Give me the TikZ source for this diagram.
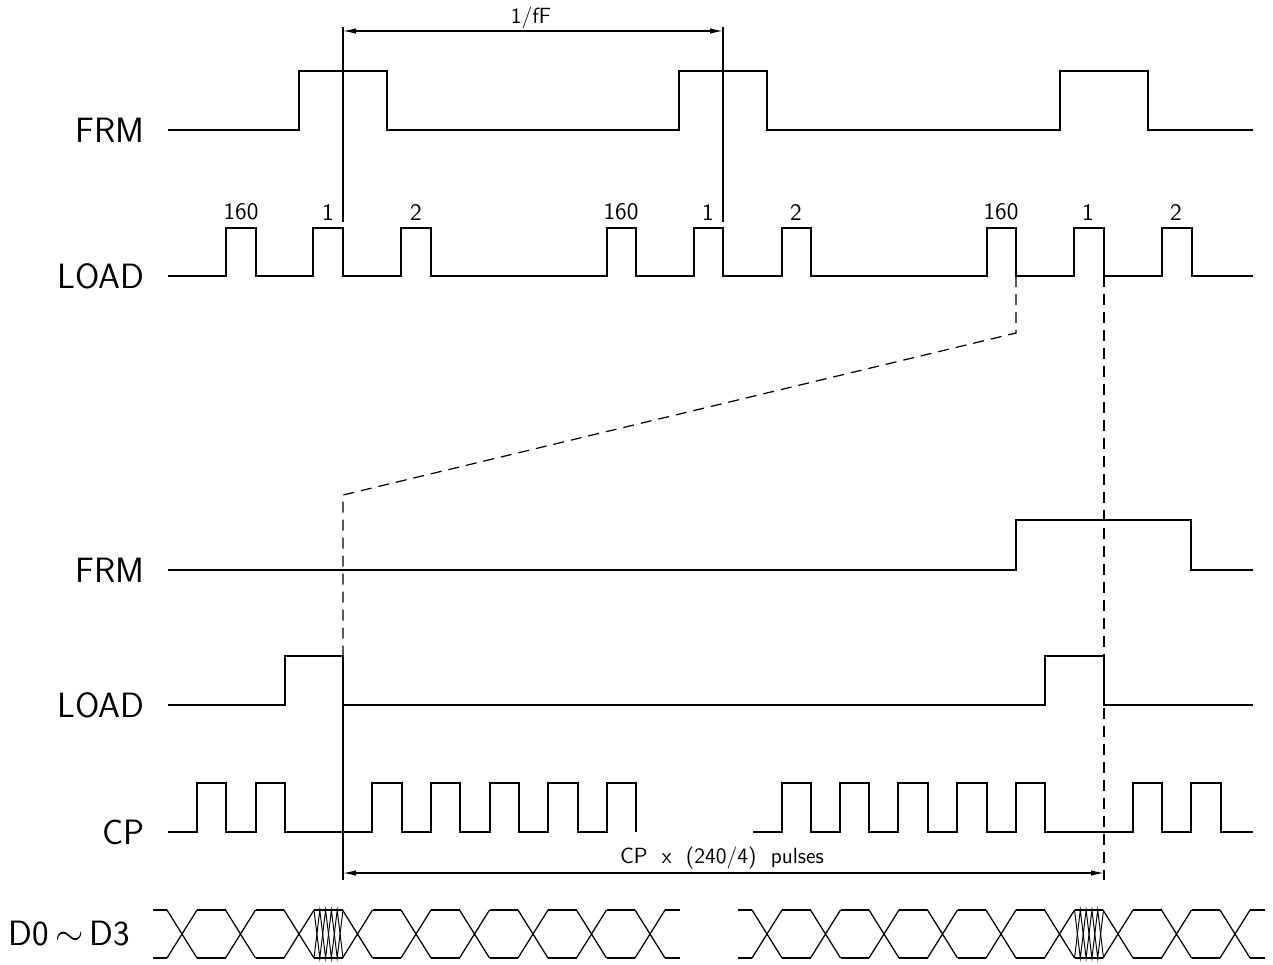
\documentclass[tikz,border=0pt]{standalone}
\usepackage{amsmath}
\usetikzlibrary{arrows.meta, calc, positioning}

\tikzset{
	sig/.style={line width=.7pt},
	hatchline/.style={line width=.55pt},
	guide/.style={line width=.7pt, dash pattern=on 2.2mm off 1.4mm},
	dimarrow/.style={line width=.7pt, {Latex[length=2.6mm,width=1.1mm]}-{Latex[length=2.6mm,width=1.1mm]}},
	siglabel/.style={anchor=east, inner sep=0pt, font=\sffamily\fontsize{20}{20}\selectfont},
	numlabel/.style={inner sep=0pt, font=\sffamily\fontsize{13.5}{13.5}\selectfont},
	dimlabel/.style={inner sep=0pt, font=\sffamily\fontsize{12.5}{12.5}\selectfont},
}

\begin{document}
\begin{tikzpicture}[x=0.02cm, y=-0.02cm]
		\useasboundingbox (0,0) rectangle (1273,964);

		% signal names
		\node[siglabel] (frmA) at (145,130) {FRM};
		\node[siglabel] (loadA) at (145,276) {LOAD};
		\node[siglabel] (frmB) at (145,570) {FRM};
		\node[siglabel] (loadB) at (145,705) {LOAD};
		\node[siglabel] (cp) at (145,832) {CP};
		\node[siglabel] (data) at (130,934) {D0\,$\sim$\,D3};

		% frame view
		\draw[sig] (168,130) -- (299,130) |- (387,71) |- (679,130) |- (767,71) |- (1060,130) |- (1148,71) |- (1253,130);
		\draw[sig] (168,276) -- (226,276) |- (256,228) |- (313,276) |- (343,228) |- (401,276) |- (431,228)
			|- (607,276) |- (636,228) |- (694,276) |- (723,228) |- (782,276) |- (811,228)
			|- (987,276) |- (1016,228) |- (1074,276) |- (1104,228) |- (1162,276) |- (1192,228) |- (1253,276);
		\foreach \g [count=\i] in {0,380,760} {
			\node[numlabel] (lineA\i) at (241+\g,212) {160};
			\node[numlabel] (lineB\i) at (328+\g,212) {1};
			\node[numlabel] (lineC\i) at (416+\g,212) {2};
		}

		\coordinate (mAtop) at (343,27);
		\coordinate (mAbot) at (343,222);
		\coordinate (mBtop) at (723,27);
		\coordinate (mBbot) at (723,222);
		\draw[sig] (mAtop) -- (mAbot);
		\draw[sig] (mBtop) -- (mBbot);
		\draw[dimarrow] ($(mAtop)+(0,4)$) -- ($(mBtop)+(0,4)$);
		\node[dimlabel] (period) at (531,18) {1/fF};

		% zoomed line
		\draw[guide] (1016,276) -- (1016,333) -- (343,495) -- (343,656);
		\draw[guide] (1104,276) -- (1104,880);

		\draw[sig] (168,570) -- (1016,570) |- (1191,520) |- (1253,570);
		\draw[sig] (168,705) -- (285,705) |- (343,656) |- (1045,705) |- (1104,656) |- (1253,705);
		\draw[sig] (168,832) -- (197,832) |- (226,783) |- (256,832) |- (285,783) |- (372,832) |- (402,783)
			|- (431,832) |- (460,783) |- (490,832) |- (519,783) |- (548,832) |- (578,783) |- (607,832) |- (636,783) -- (636,832);
		\draw[sig] (753,832) -- (782,832) |- (811,783) |- (840,832) |- (869,783) |- (898,832) |- (928,783)
			|- (957,832) |- (987,783) |- (1016,832) |- (1045,783) |- (1133,832) |- (1162,783) |- (1191,832) |- (1221,783) |- (1253,832);

		\coordinate (cpA) at (343,705);
		\coordinate (cpB) at (343,880);
		\draw[sig] (cpA) -- (cpB);
		\draw[dimarrow] (343,873) -- (1104,873);
		\node[dimlabel] (count) at (722,858) {CP\ \ x\ \ (240/4)\ \ pulses};

		% data bus
		\foreach \k in {0,...,8,10,11,...,18}
			\draw[sig] ({167+58.5*\k},910) -- ++(30,48) ++(-30,0) -- ++(30,-48);
		\foreach \k in {0,...,7,10,11,...,17}
			\draw[sig] ({197+58.5*\k},910) -- ++(28.5,0) ({197+58.5*\k},958) -- ++(28.5,0);
		\draw[sig] (153,910) -- (167,910) (153,958) -- (167,958) (665,910) -- (680,910) (665,958) -- (680,958);
		\draw[sig] (738,910) -- (752,910) (738,958) -- (752,958) (1250,910) -- (1265,910) (1250,958) -- (1265,958);
		\foreach \x in {314,1074.5} {
			\draw[hatchline] (\x,910) -- ++(5.8,48) -- ++(5.8,-48) -- ++(5.8,48) -- ++(5.8,-48) -- ++(5.8,48);
			\draw[hatchline] (\x,958) -- ++(5.8,-48) -- ++(5.8,48) -- ++(5.8,-48) -- ++(5.8,48) -- ++(5.8,-48);
		}
	\end{tikzpicture}
\end{document}
